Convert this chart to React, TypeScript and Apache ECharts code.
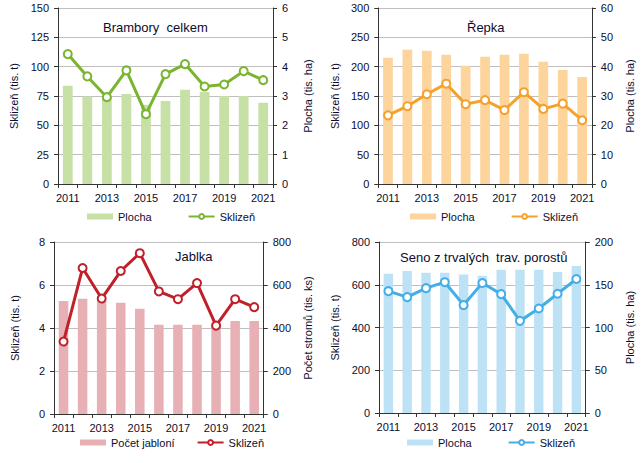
import React, { useEffect, useRef } from "react";
import * as echarts from "echarts";

const years = ["2011", "2012", "2013", "2014", "2015", "2016", "2017", "2018", "2019", "2020", "2021"];

const bramboryPlocha = [3.35, 2.98, 2.98, 3.07, 2.7, 2.83, 3.21, 3.14, 3.0, 3.0, 2.77];
const bramborySklizen = [110.7, 91.7, 74, 96.8, 59.5, 93.6, 102.2, 83.1, 84.8, 96.2, 88.5];

const repkaPlocha = [43.0, 45.8, 45.4, 44.1, 40.3, 43.4, 44.1, 44.4, 41.7, 38.9, 36.5];
const repkaSklizen = [117, 132.6, 153, 171, 136, 143, 126, 156.5, 128, 137, 108.7];

const jablkaStromy = [526, 536, 526, 517, 489, 415, 415, 415, 420, 433, 433];
const jablkaSklizen = [3.37, 6.79, 5.37, 6.65, 7.48, 5.7, 5.34, 6.09, 4.11, 5.34, 4.97];

const senoPlocha = [163, 166, 164, 164, 162, 160.5, 167.6, 167.6, 167.6, 165, 172];
const senoSklizen = [570, 542, 584, 612, 505, 608, 556, 431, 489, 558, 627];

const FONT = "'Liberation Sans', Arial, sans-serif";
const TEXT = "#0d0d2e";
const AXIS = "#333333";
const GRID = "#bfbfbf";

type Cfg = {
  title: string;
  titleLeft: number;
  titleTop: number;
  barName: string;
  barColor: string;
  lineColor: string;
  bars: number[];
  line: number[];
  leftMax: number;
  leftInterval: number;
  rightMax: number;
  rightInterval: number;
  leftName: string;
  rightName: string;
  leftGap: number;
  rightGap: number;
  grid: { left: number; right: number; top: number; height: number };
  legendLeft: number;
  legendTop: number;
  legendGap: number;
};

function makeOption(c: Cfg) {
  const tick = { show: true, length: 4, lineStyle: { color: AXIS } };
  return {
    animation: false,
    textStyle: { fontFamily: FONT },
    title: {
      text: c.title,
      left: c.titleLeft,
      top: c.titleTop,
      padding: 0,
      textStyle: { fontSize: 13, fontWeight: "normal", color: TEXT, fontFamily: FONT },
    },
    legend: {
      left: c.legendLeft,
      top: c.legendTop,
      padding: 0,
      itemWidth: 26,
      itemHeight: 6,
      itemGap: c.legendGap,
      textStyle: { fontSize: 11, color: TEXT, fontFamily: FONT },
      data: [{ name: c.barName, icon: "rect" }, { name: "Sklizeň" }],
    },
    grid: { ...c.grid, containLabel: false },
    xAxis: {
      type: "category",
      data: years,
      boundaryGap: true,
      axisLine: { show: true, lineStyle: { color: AXIS } },
      axisTick: { ...tick, interval: 0 },
      axisLabel: { interval: 1, color: TEXT, fontSize: 11, margin: 8, fontFamily: FONT },
    },
    yAxis: [
      {
        type: "value",
        position: "left",
        min: 0,
        max: c.leftMax,
        interval: c.leftInterval,
        name: c.leftName,
        nameLocation: "middle",
        nameRotate: 90,
        nameGap: c.leftGap,
        nameTextStyle: { fontSize: 11, color: TEXT, fontFamily: FONT },
        axisLine: { show: true, lineStyle: { color: AXIS } },
        axisTick: tick,
        axisLabel: { color: TEXT, fontSize: 11, margin: 9, fontFamily: FONT },
        splitLine: { show: true, lineStyle: { color: GRID, width: 1 } },
      },
      {
        type: "value",
        position: "right",
        min: 0,
        max: c.rightMax,
        interval: c.rightInterval,
        name: c.rightName,
        nameLocation: "middle",
        nameRotate: 90,
        nameGap: c.rightGap,
        nameTextStyle: { fontSize: 11, color: TEXT, fontFamily: FONT },
        axisLine: { show: true, lineStyle: { color: AXIS } },
        axisTick: tick,
        axisLabel: { color: TEXT, fontSize: 11, margin: 9, fontFamily: FONT },
        splitLine: { show: false },
      },
    ],
    series: [
      {
        name: c.barName,
        type: "bar",
        yAxisIndex: 1,
        data: c.bars,
        barWidth: "50%",
        itemStyle: { color: c.barColor },
      },
      {
        name: "Sklizeň",
        type: "line",
        yAxisIndex: 0,
        data: c.line,
        symbol: "emptyCircle",
        symbolSize: 8,
        itemStyle: { color: c.lineColor, borderWidth: 1.5 },
        lineStyle: { color: c.lineColor, width: 3 },
      },
    ],
  };
}

const panels: { style: React.CSSProperties; cfg: Cfg }[] = [
  {
    style: { left: 0, top: 0, width: 321, height: 231 },
    cfg: {
      title: "Brambory  celkem",
      titleLeft: 103,
      titleTop: 21,
      barName: "Plocha",
      barColor: "#c7e0a6",
      lineColor: "#7ab52f",
      bars: bramboryPlocha,
      line: bramborySklizen,
      leftMax: 150,
      leftInterval: 25,
      rightMax: 6,
      rightInterval: 1,
      leftName: "Sklizeň (tis. t)",
      rightName: "Plocha (tis. ha)",
      leftGap: 37,
      rightGap: 29,
      grid: { left: 58, right: 47, top: 8, height: 176 },
      legendLeft: 87,
      legendTop: 211,
      legendGap: 36,
    },
  },
  {
    style: { left: 321, top: 0, width: 322, height: 231 },
    cfg: {
      title: "Řepka",
      titleLeft: 146,
      titleTop: 21,
      barName: "Plocha",
      barColor: "#fcd49c",
      lineColor: "#f5a12c",
      bars: repkaPlocha,
      line: repkaSklizen,
      leftMax: 300,
      leftInterval: 50,
      rightMax: 60,
      rightInterval: 10,
      leftName: "Sklizeň (tis. t)",
      rightName: "Plocha (tis. ha)",
      leftGap: 38,
      rightGap: 30,
      grid: { left: 57, right: 50, top: 8, height: 176 },
      legendLeft: 89,
      legendTop: 211,
      legendGap: 36,
    },
  },
  {
    style: { left: 0, top: 231, width: 321, height: 232 },
    cfg: {
      title: "Jablka",
      titleLeft: 175,
      titleTop: 19,
      barName: "Počet jabloní",
      barColor: "#e6b0b4",
      lineColor: "#c0202a",
      bars: jablkaStromy,
      line: jablkaSklizen,
      leftMax: 8,
      leftInterval: 2,
      rightMax: 800,
      rightInterval: 200,
      leftName: "Sklizeň (tis. t)",
      rightName: "Počet stromů (tis. ks)",
      leftGap: 34,
      rightGap: 35,
      grid: { left: 54, right: 45, top: 11, height: 172 },
      legendLeft: 80,
      legendTop: 206,
      legendGap: 22,
    },
  },
  {
    style: { left: 321, top: 231, width: 322, height: 232 },
    cfg: {
      title: "Seno z trvalých  trav. porostů",
      titleLeft: 79,
      titleTop: 20,
      barName: "Plocha",
      barColor: "#bde2f5",
      lineColor: "#45aee8",
      bars: senoPlocha,
      line: senoSklizen,
      leftMax: 800,
      leftInterval: 200,
      rightMax: 200,
      rightInterval: 50,
      leftName: "Sklizeň (tis. t)",
      rightName: "Plocha (tis. ha)",
      leftGap: 39,
      rightGap: 37,
      grid: { left: 57, right: 49, top: 11, height: 171 },
      legendLeft: 86,
      legendTop: 206,
      legendGap: 36,
    },
  },
];

function Panel({ cfg, style }: { cfg: Cfg; style: React.CSSProperties }) {
  const ref = useRef<HTMLDivElement>(null);
  useEffect(() => {
    const chart = echarts.init(ref.current as HTMLDivElement, undefined, { renderer: "svg" });
    chart.setOption(makeOption(cfg));
    return () => chart.dispose();
  }, []);
  return <div ref={ref} style={{ position: "absolute", ...style }} />;
}

export default function App() {
  return (
    <div style={{ position: "fixed", left: 0, top: 0, width: 643, height: 463, background: "#fff" }}>
      {panels.map((p, i) => (
        <Panel key={i} cfg={p.cfg} style={p.style} />
      ))}
    </div>
  );
}
